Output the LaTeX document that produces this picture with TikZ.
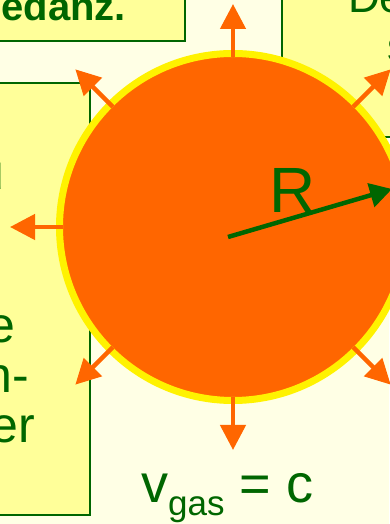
\documentclass[tikz,border=0pt]{standalone}
\usepackage{fontspec}
\setmainfont{Liberation Sans}
\usepackage{xcolor}
\usetikzlibrary{arrows.meta}

\definecolor{slidebg}{HTML}{FFFFE5}
\definecolor{boxfill}{HTML}{FFFF99}
\definecolor{darkgreen}{HTML}{006600}
\definecolor{sunorange}{HTML}{FF6600}

\begin{document}
\begin{tikzpicture}[x=1pt, y=1pt,
  textbox/.style={fill=boxfill, draw=darkgreen, line width=2pt},
  boxtext/.style={text=darkgreen, inner sep=0pt, anchor=base east, font=\fontsize{50}{50}\selectfont},
  ray/.style={sunorange, line width=4.5pt, -{Triangle[length=25pt, width=25pt]}},
  radius arrow/.style={darkgreen, line width=4.5pt, -{Triangle[length=22pt, width=24pt]}}]
  \useasboundingbox (0,0) rectangle (389,524);
  \fill[slidebg] (0,0) rectangle (389,524);

  % text boxes, cut by the page edge
  \draw[textbox] (-10,483) rectangle (185,540);
  \draw[textbox] (282,387) rectangle (400,540);
  \draw[textbox] (-10,9) rectangle (90,441);
  \node[boxtext, font=\fontsize{40}{40}\selectfont\bfseries] (title) at (126,503) {edanz.};
  \node[boxtext, anchor=base west, font=\fontsize{44}{44}\selectfont] (rline1) at (348,511) {De};
  \node[boxtext, anchor=base west, font=\fontsize{44}{44}\selectfont] (rline2) at (387.5,462) {s};
  \node[boxtext] (lline1) at (4.5,334) {u};
  \node[boxtext] (lline2) at (16,181) {e};
  \node[boxtext] (lline3) at (29,131) {n-};
  \node[boxtext] (lline4) at (35,81) {er};

  % the sphere and its rays
  \coordinate (C) at (233,297);
  \draw[fill=sunorange, draw=yellow, line width=7pt] (C) circle[radius=173.5];
  \foreach \a in {0,45,...,315}
    \draw[ray] (C) ++(\a:170) -- ++(\a:53);

  \coordinate (Rfoot) at (228,287);
  \coordinate (Rtip) at (392,335);
  \draw[radius arrow] (Rfoot) -- (Rtip);
  \node[text=darkgreen, inner sep=0pt, anchor=base, font=\fontsize{64}{64}\selectfont] (rlabel) at (292.5,311) {R};

  \node[text=darkgreen, inner sep=0pt, anchor=base west, font=\fontsize{54}{54}\selectfont] (vgas) at (141,21)
    {v\raisebox{-12pt}{\fontsize{35}{35}\selectfont gas} = c};
\end{tikzpicture}
\end{document}
